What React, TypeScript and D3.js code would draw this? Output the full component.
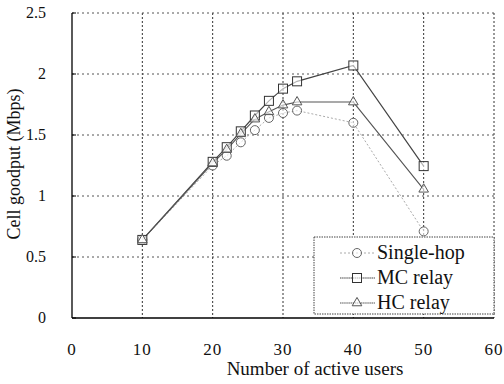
import { useEffect, useRef } from "react";
import * as d3 from "d3";

const users = [10, 20, 22, 24, 26, 28, 30, 32, 40, 50];
const singleHop = [0.64, 1.25, 1.33, 1.44, 1.54, 1.64, 1.68, 1.7, 1.6, 0.71];
const mcRelay = [0.64, 1.28, 1.4, 1.53, 1.66, 1.78, 1.88, 1.94, 2.07, 1.245];
const hcRelay = [0.64, 1.27, 1.38, 1.51, 1.63, 1.69, 1.745, 1.77, 1.77, 1.055];
const xTicks = [0, 10, 20, 30, 40, 50, 60];
const yTicks = [0, 0.5, 1, 1.5, 2, 2.5];
const seriesNames = ["Single-hop", "MC relay", "HC relay"];

const W = 504;
const H = 384;
const FONT = "Liberation Serif, DejaVu Serif, serif";

export default function App ()
{
    const svgRef = useRef<SVGSVGElement>( null );

    useEffect( () =>
    {
        if ( !svgRef.current ) return;
        const svg = d3.select( svgRef.current );
        svg.selectAll( "*" ).remove();

        const m = { top: 13, right: 10, bottom: 66, left: 72 };
        const w = W - m.left - m.right;
        const h = H - m.top - m.bottom;
        const g = svg.append( "g" ).attr( "transform", `translate(${ m.left },${ m.top })` );

        const x = d3.scaleLinear().domain( [ 0, 60 ] ).range( [ 0, w ] );
        const y = d3.scaleLinear().domain( [ 0, 2.5 ] ).range( [ h, 0 ] );

        // grid
        g.append( "g" ).selectAll( "line" ).data( xTicks.slice( 1 ) ).join( "line" )
            .attr( "x1", ( d ) => x( d ) ).attr( "x2", ( d ) => x( d ) ).attr( "y1", 0 ).attr( "y2", h )
            .attr( "stroke", "#333" ).attr( "stroke-width", 1 ).attr( "stroke-dasharray", "2,2" );
        g.append( "g" ).selectAll( "line" ).data( yTicks.slice( 1 ) ).join( "line" )
            .attr( "x1", 0 ).attr( "x2", w ).attr( "y1", ( d ) => y( d ) ).attr( "y2", ( d ) => y( d ) )
            .attr( "stroke", "#555" ).attr( "stroke-width", 1 ).attr( "stroke-dasharray", "2,3" );

        // frame
        g.append( "line" ).attr( "x1", 0 ).attr( "x2", 0 ).attr( "y1", 0 ).attr( "y2", h ).attr( "stroke", "#000" ).attr( "stroke-width", 1.3 );
        g.append( "line" ).attr( "x1", 0 ).attr( "x2", w ).attr( "y1", h ).attr( "y2", h ).attr( "stroke", "#000" ).attr( "stroke-width", 1.3 );

        // y ticks
        g.append( "g" ).selectAll( "line" ).data( yTicks ).join( "line" )
            .attr( "x1", 0 ).attr( "x2", 4 ).attr( "y1", ( d ) => y( d ) ).attr( "y2", ( d ) => y( d ) )
            .attr( "stroke", "#000" );

        // tick labels
        g.append( "g" ).selectAll( "text" ).data( yTicks ).join( "text" )
            .attr( "x", -26 ).attr( "y", ( d ) => y( d ) + 5 ).attr( "text-anchor", "end" )
            .attr( "font-family", FONT ).attr( "font-size", 16 ).attr( "fill", "#111" )
            .text( ( d ) => String( d ) );
        g.append( "g" ).selectAll( "text" ).data( xTicks ).join( "text" )
            .attr( "x", ( d ) => x( d ) ).attr( "y", 355 - m.top ).attr( "text-anchor", "middle" )
            .attr( "font-family", FONT ).attr( "font-size", 17 ).attr( "letter-spacing", 1 ).attr( "fill", "#111" )
            .text( ( d ) => String( d ) );

        // axis titles
        g.append( "text" ).attr( "x", 315 - m.left ).attr( "y", 375 - m.top ).attr( "text-anchor", "middle" )
            .attr( "font-family", FONT ).attr( "font-size", 19 ).attr( "fill", "#111" )
            .text( "Number of active users" );
        g.append( "text" ).attr( "transform", "rotate(-90)" )
            .attr( "x", -( 164 - m.top ) ).attr( "y", 20 - m.left ).attr( "text-anchor", "middle" )
            .attr( "font-family", FONT ).attr( "font-size", 18 ).attr( "fill", "#111" )
            .text( "Cell goodput (Mbps)" );

        const series = [
            { name: seriesNames[ 0 ], values: singleHop, color: "#aaa", dash: "2,2", width: 1, marker: "circle" },
            { name: seriesNames[ 1 ], values: mcRelay, color: "#444", dash: null, width: 1.2, marker: "square" },
            { name: seriesNames[ 2 ], values: hcRelay, color: "#555", dash: null, width: 1.1, marker: "triangle" },
        ];

        const drawMarker = ( sel: d3.Selection<SVGGElement, unknown, null, undefined>, kind: string, cx: number, cy: number, color: string ) =>
        {
            if ( kind === "circle" )
                sel.append( "circle" ).attr( "cx", cx ).attr( "cy", cy ).attr( "r", 4.5 )
                    .attr( "fill", "#fff" ).attr( "fill-opacity", 0.6 ).attr( "stroke", "#666" ).attr( "stroke-width", 1 );
            else if ( kind === "square" )
                sel.append( "rect" ).attr( "x", cx - 4.5 ).attr( "y", cy - 4.5 ).attr( "width", 9 ).attr( "height", 9 )
                    .attr( "fill", "#fff" ).attr( "fill-opacity", 0.6 ).attr( "stroke", "#333" ).attr( "stroke-width", 1 );
            else
                sel.append( "path" ).attr( "transform", `translate(${ cx },${ cy })` )
                    .attr( "d", d3.symbol().type( d3.symbolTriangle ).size( 40 )() as string )
                    .attr( "fill", "#fff" ).attr( "fill-opacity", 0.6 ).attr( "stroke", color ).attr( "stroke-width", 1 );
        };

        const line = d3.line<number>().x( ( _, i ) => x( users[ i ] ) ).y( ( d ) => y( d ) );

        series.forEach( ( s ) =>
        {
            g.append( "path" ).datum( s.values ).attr( "d", line )
                .attr( "fill", "none" ).attr( "stroke", s.color ).attr( "stroke-width", s.width )
                .attr( "stroke-dasharray", s.dash );
        } );
        series.forEach( ( s ) =>
        {
            const mg = g.append( "g" );
            s.values.forEach( ( v, i ) => drawMarker( mg, s.marker, x( users[ i ] ), y( v ), s.color ) );
        } );

        // legend
        const lg = svg.append( "g" );
        lg.append( "rect" ).attr( "x", 314 ).attr( "y", 237 ).attr( "width", 180 ).attr( "height", 77 )
            .attr( "fill", "#fff" ).attr( "stroke", "#444" ).attr( "stroke-width", 1 ).attr( "stroke-dasharray", "1.5,1" );
        series.forEach( ( s, i ) =>
        {
            const ly = 253 + i * 25;
            lg.append( "line" ).attr( "x1", 340 ).attr( "x2", 375 ).attr( "y1", ly ).attr( "y2", ly )
                .attr( "stroke", s.color ).attr( "stroke-width", s.width ).attr( "stroke-dasharray", s.dash ?? "1.5,0.6" );
            drawMarker( lg, s.marker, 357, ly, s.color );
            lg.append( "text" ).attr( "x", 377 ).attr( "y", ly + 6 )
                .attr( "font-family", FONT ).attr( "font-size", 20 ).attr( "fill", "#111" )
                .text( s.name );
        } );
    }, [] );

    return (
        <div style={ { position: "absolute", left: 0, top: 0, width: W, height: H, background: "#fff" } }>
            <svg ref={ svgRef } width={ W } height={ H } />
        </div>
    );
}
